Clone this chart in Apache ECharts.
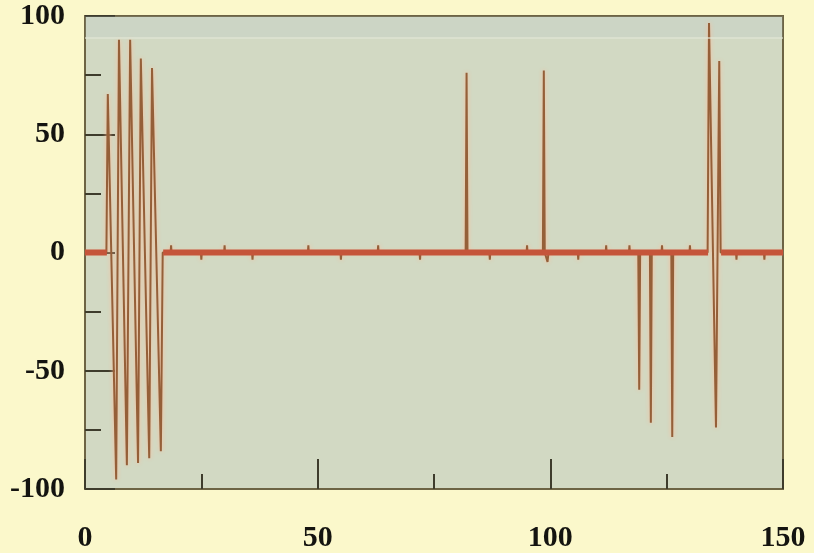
<!DOCTYPE html>
<html>
<head>
<meta charset="utf-8">
<script src="https://cdn.jsdelivr.net/npm/echarts@6/dist/echarts.min.js"></script>
<style>
html,body{margin:0;padding:0;background:#fbf8cb;}
#chart{width:814px;height:553px;}
</style>
</head>
<body>
<div id="chart"></div>
<script>
// Signal samples (time, amplitude)
const signalTimes = [
  0, 4.6, 4.9, 6.7, 7.3, 9.0, 9.7, 11.4, 12.0, 13.8, 14.4, 16.3, 16.7,
  18.4, 18.5, 18.6, 24.9, 25.0, 25.1, 29.9, 30.0, 30.1, 35.9, 36.0, 36.1,
  47.9, 48.0, 48.1, 54.9, 55.0, 55.1, 62.9, 63.0, 63.1, 71.9, 72.0, 72.1,
  81.8, 82.0, 82.2, 86.9, 87.0, 87.1, 94.9, 95.0, 95.1,
  98.4, 98.6, 98.8, 99.2, 99.4, 99.6, 105.9, 106.0, 106.1, 111.9, 112.0, 112.1,
  116.9, 117.0, 117.1, 118.9, 119.1, 119.3, 121.4, 121.6, 121.8,
  123.9, 124.0, 124.1, 126.0, 126.2, 126.4, 129.9, 130.0, 130.1,
  133.8, 134.1, 135.6, 136.3, 136.6,
  139.9, 140.0, 140.1, 145.9, 146.0, 146.1, 150
];
const signalValues = [
  0, 0, 67, -96, 90, -90, 90, -89, 82, -87, 78, -84, 0,
  0, 3, 0, 0, -3, 0, 0, 3, 0, 0, -3, 0,
  0, 3, 0, 0, -3, 0, 0, 3, 0, 0, -3, 0,
  0, 76, 0, 0, -3, 0, 0, 3, 0,
  0, 77, 0, 0, -4, 0, 0, -3, 0, 0, 3, 0,
  0, 3, 0, 0, -58, 0, 0, -72, 0,
  0, 3, 0, 0, -78, 0, 0, 3, 0,
  0, 97, -74, 81, 0,
  0, -3, 0, 0, -3, 0, 0
];
// Thick baseline trace segments (start, end)
const baselineStarts = [0, 16.8, 136.7];
const baselineEnds = [4.7, 133.9, 150];
const xTicks = {min: 0, max: 150, interval: 50};
const yTicks = {min: -100, max: 100, interval: 50};

const signalData = signalTimes.map((t, i) => [t, signalValues[i]]);
const baselineData = [];
baselineStarts.forEach((s, i) => {
  baselineData.push([s, 0], [baselineEnds[i], 0]);
  if (i < baselineStarts.length - 1) baselineData.push([baselineEnds[i], '-']);
});

const labelFont = {fontFamily: 'Liberation Serif', fontWeight: 'bold', fontSize: 30, color: '#141410'};

const chart = echarts.init(document.getElementById('chart'));
chart.setOption({
  backgroundColor: '#fbf8cb',
  animation: false,
  grid: {left: 85, right: 31, top: 16, bottom: 64, show: true,
    backgroundColor: '#d2d9c3', borderColor: '#6d6444', borderWidth: 2},
  xAxis: {
    type: 'value', min: xTicks.min, max: xTicks.max, interval: xTicks.interval,
    axisLine: {show: true, onZero: false, lineStyle: {color: '#6d6444', width: 2}},
    axisTick: {show: true, inside: true, length: 30, lineStyle: {color: '#3e3c2c', width: 2}},
    minorTick: {show: true, splitNumber: 2, length: 15, lineStyle: {color: '#3e3c2c', width: 2}},
    splitLine: {show: false},
    axisLabel: Object.assign({margin: 34}, labelFont)
  },
  yAxis: {
    type: 'value', min: yTicks.min, max: yTicks.max, interval: yTicks.interval,
    axisLine: {show: true, onZero: false, lineStyle: {color: '#6d6444', width: 2}},
    axisTick: {show: true, inside: true, length: 30, lineStyle: {color: '#3e3c2c', width: 2}},
    minorTick: {show: true, splitNumber: 2, length: 16, lineStyle: {color: '#3e3c2c', width: 2}},
    splitLine: {show: false},
    axisLabel: Object.assign({margin: 20}, labelFont)
  },
  series: [
    {
      type: 'line', name: 'signal', data: signalData, symbol: 'none', z: 2,
      lineStyle: {color: '#955f38', width: 2, shadowColor: 'rgba(255,185,150,0.95)', shadowBlur: 4},
      markArea: {silent: true, itemStyle: {color: 'rgba(175,195,205,0.15)'},
        data: [[{yAxis: 91}, {yAxis: 100}]]},
      markLine: {silent: true, symbol: 'none', label: {show: false},
        lineStyle: {color: 'rgba(225,230,215,0.6)', width: 2, type: 'solid'},
        data: [{yAxis: 91}]}
    },
    {
      type: 'line', name: 'baseline', data: baselineData, symbol: 'none', z: 3,
      connectNulls: false,
      lineStyle: {color: '#c5553a', width: 6}
    }
  ]
});
</script>
</body>
</html>
